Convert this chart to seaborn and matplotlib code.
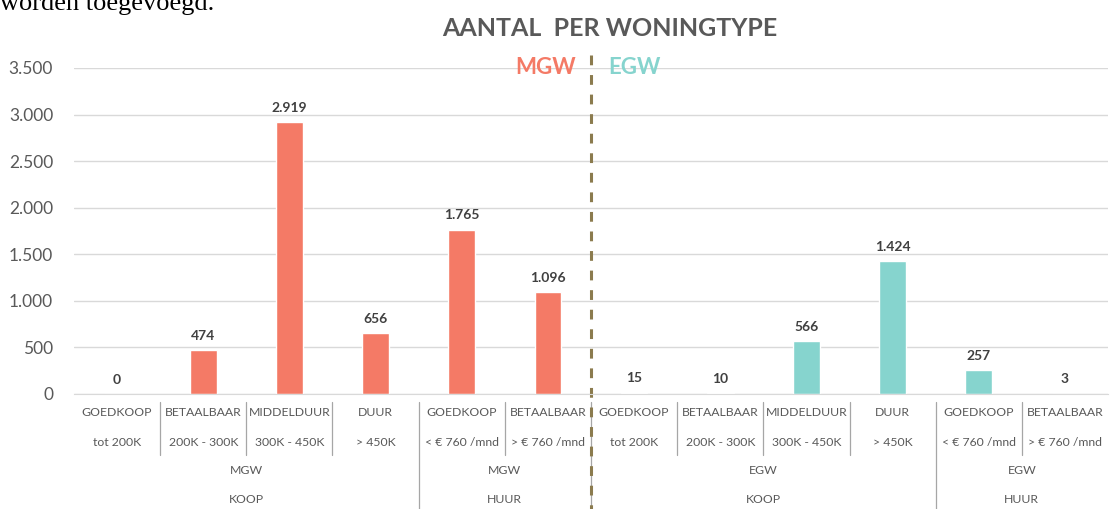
import matplotlib.pyplot as plt
import seaborn as sns
import pandas as pd
from matplotlib.lines import Line2D

# data
segments = ["GOEDKOOP", "BETAALBAAR", "MIDDELDUUR", "DUUR", "GOEDKOOP", "BETAALBAAR",
            "GOEDKOOP", "BETAALBAAR", "MIDDELDUUR", "DUUR", "GOEDKOOP", "BETAALBAAR"]
ranges = ["tot 200K", "200K - 300K", "300K - 450K", "> 450K", "< € 760 /mnd", "> € 760 /mnd",
          "tot 200K", "200K - 300K", "300K - 450K", "> 450K", "< € 760 /mnd", "> € 760 /mnd"]
woningtype = ["MGW"] * 6 + ["EGW"] * 6
koop_huur = ["KOOP"] * 4 + ["HUUR"] * 2 + ["KOOP"] * 4 + ["HUUR"] * 2
aantal = [0, 474, 2919, 656, 1765, 1096, 15, 10, 566, 1424, 257, 3]

group_labels = [("MGW", "KOOP", 0, 3), ("MGW", "HUUR", 4, 5),
                ("EGW", "KOOP", 6, 9), ("EGW", "HUUR", 10, 11)]

colors = {"MGW": "#F47A66", "EGW": "#86D4CE"}
grey = "#595959"

df = pd.DataFrame({
    "key": [f"{i}" for i in range(len(aantal))],
    "type": woningtype,
    "aantal": aantal,
})

sns.set_style("white")
plt.rcParams["font.family"] = ["Lato", "DejaVu Sans"]

fig = plt.figure(figsize=(11.18, 5.09), dpi=100)
ax = fig.add_axes([74 / 1118, 1 - 394 / 509, 1034 / 1118, 326 / 509])

sns.barplot(data=df, x="key", y="aantal", hue="type", palette=colors, saturation=1,
            dodge=False, width=0.31, legend=False, ax=ax)

for c in ax.containers:
    vals = [int(b.get_height()) for b in c]
    ax.bar_label(c, labels=[f"{v:,}".replace(",", ".") for v in vals], padding=6,
                 fontsize=10, fontweight="bold", color="#404040")

ax.set_xlim(-0.5, 11.5)
ax.set_ylim(0, 3500)
ax.set_yticks(range(0, 3501, 500))
ax.set_yticklabels([f"{v:,}".replace(",", ".") for v in range(0, 3501, 500)])
ax.tick_params(axis="y", length=0, pad=15, labelsize=12.5, labelcolor=grey)
ax.set_xticks([])
ax.set_xlabel("")
ax.set_ylabel("")
ax.yaxis.grid(True, color="#D9D9D9", linewidth=1)
ax.set_axisbelow(True)
for s in ["top", "right", "left"]:
    ax.spines[s].set_visible(False)
ax.spines["bottom"].set_color("#D9D9D9")

# multi-level category labels
tr = ax.get_xaxis_transform()
row_y = [-0.058, -0.150, -0.236, -0.325]
for i in range(len(aantal)):
    ax.text(i, row_y[0], segments[i], transform=tr, ha="center", va="center",
            fontsize=8.8, color=grey)
    ax.text(i, row_y[1], ranges[i], transform=tr, ha="center", va="center",
            fontsize=8.8, color=grey)
for wt, kh, a, b in group_labels:
    ax.text((a + b) / 2, row_y[2], wt, transform=tr, ha="center", va="center",
            fontsize=8.8, color=grey)
    ax.text((a + b) / 2, row_y[3], kh, transform=tr, ha="center", va="center",
            fontsize=8.8, color=grey)

long_seps = [3.5, 5.5, 9.5]
for i in range(11):
    x = i + 0.5
    y0 = -0.353 if x in long_seps else -0.187
    ax.add_line(Line2D([x, x], [-0.0245, y0], transform=tr, color="#A6A6A6",
                       linewidth=0.9, clip_on=False))

# dashed divider between MGW and EGW
ax.add_line(Line2D([5.5, 5.5], [1.04, -0.36], transform=tr, color="#8B7B4E",
                   linewidth=2.2, linestyle=(0, (3.2, 3.2)), clip_on=False))

ax.text(4.97, 1.0, "MGW", transform=tr, ha="center", va="center",
        fontsize=16, fontweight="bold", color=colors["MGW"])
ax.text(6.0, 1.0, "EGW", transform=tr, ha="center", va="center",
        fontsize=16, fontweight="bold", color=colors["EGW"])

fig.text(610 / 1118, 1 - 28 / 509, "AANTAL  PER WONINGTYPE", ha="center", va="center",
         fontsize=18, fontweight="bold", color=grey)

# cut-off line of document text above the chart
fig.text(0.0, 1 - 10 / 509, "worden toegevoegd.", ha="left", va="baseline",
         fontsize=19, family="Liberation Serif", color="black")

fig.savefig("out.png", dpi=100, facecolor="white")
